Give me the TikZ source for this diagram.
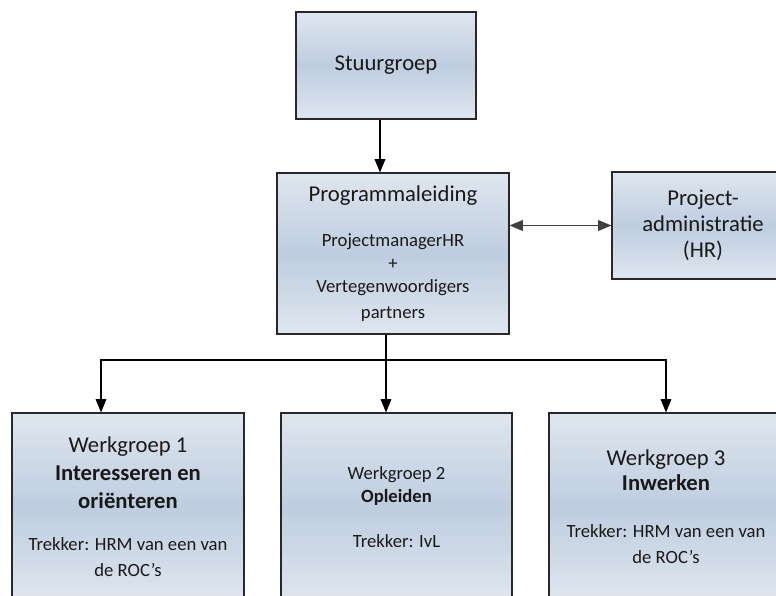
\documentclass[tikz,border=0pt]{standalone}
\usepackage{fontspec}
\setmainfont{Carlito}
\usetikzlibrary{arrows.meta}
\definecolor{boxedge}{RGB}{40,40,40}
\definecolor{boxlight}{RGB}{223,230,239}
\definecolor{boxmid}{RGB}{190,205,223}
\newcommand{\headfont}{\fontsize{17}{21}\selectfont}
\newcommand{\bodyfont}{\fontsize{14}{18}\selectfont}
\begin{document}
\begin{tikzpicture}[x=0.75pt,y=-0.75pt,
  box/.style={draw=boxedge, line width=0.8pt, top color=boxlight, bottom color=boxlight,
    middle color=boxmid, align=center, inner sep=0pt, text=black!90, font=\headfont},
  arr/.style={draw=black, line width=0.8pt, -{Triangle[length=10pt,width=8pt]}},
  duo/.style={draw=black!75, line width=1.2pt, {Triangle[length=10pt,width=8pt]}-{Triangle[length=10pt,width=8pt]}}]
\useasboundingbox (0,0) rectangle (776,596);
\clip (0,0) rectangle (776,596);

% top level
\node[box, minimum width=135pt, minimum height=80.25pt] (S) at (386,65.5)
  {Stuurgroep};

% programme management
\node[box, minimum width=174pt, minimum height=120.75pt] (P) at (393,253.5)
  {Programmaleiding\\[12.5pt]
   \bodyfont ProjectmanagerHR\\[-3.5pt] \bodyfont +\\[-3.5pt]
   \bodyfont Vertegenwoordigers\\[-2pt] \bodyfont partners};

% project administration (runs off the right edge)
\node[box, minimum width=136.5pt, minimum height=80.25pt] (A) at (703,225.5)
  {Project-\\[-1.5pt] administratie\\[-1.5pt] (HR)};

% working groups (run off the bottom edge)
\node[box, minimum width=174pt, minimum height=141pt] (W1) at (128,507)
  {Werkgroep 1\\ \textbf{Interesseren en}\\ \textbf{oriënteren}\\[10.5pt]
   \bodyfont Trekker: HRM van een van\\[-1.5pt] \bodyfont de ROC’s};
\node[box, minimum width=173.25pt, minimum height=141pt, font=\bodyfont] (W2) at (396.5,507)
  {Werkgroep 2\\[-0.75pt] \textbf{Opleiden}\\[15.75pt] Trekker: IvL};
\node[box, minimum width=175.5pt, minimum height=141pt] (W3) at (666,507)
  {Werkgroep 3\\[-2.25pt] \textbf{Inwerken}\\[14.25pt]
   \bodyfont Trekker: HRM van een van\\[-1.5pt] \bodyfont de ROC’s};

% connectors
\coordinate (sx) at (380,0);
\coordinate (j) at (386,360);
\coordinate (a1) at (101,0);
\coordinate (a3) at (666,0);
\draw[arr] (S.south -| sx) -- (P.north -| sx);
\draw[duo] (P.east |- A.west) -- (A.west);
\draw[line width=0.8pt] (P.south -| j) -- (j);
\draw[arr] (j) -- (W2.north -| j);
\draw[arr] (j) -| (W1.north -| a1);
\draw[arr] (j) -| (W3.north -| a3);
\end{tikzpicture}
\end{document}
